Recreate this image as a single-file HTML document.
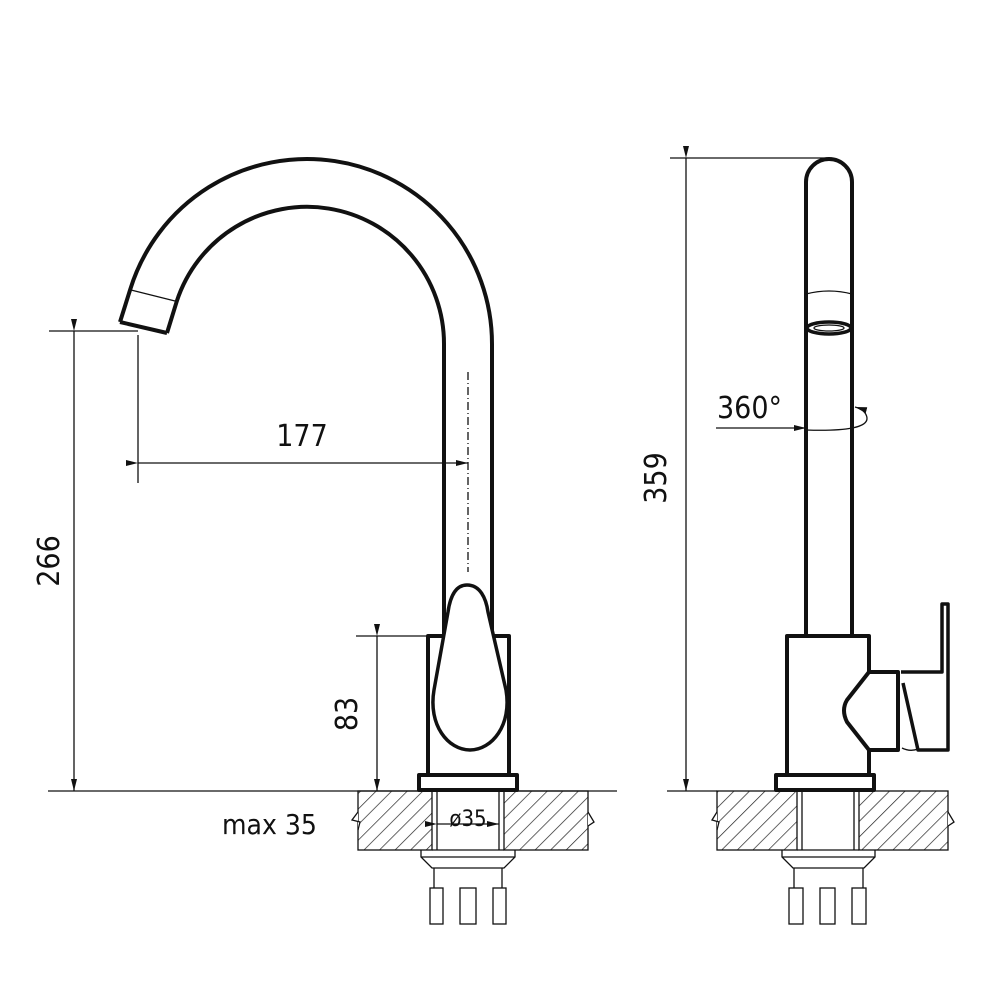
<!DOCTYPE html>
<html><head><meta charset="utf-8"><style>
html,body{margin:0;padding:0;background:#fff;width:1000px;height:1000px;overflow:hidden}
text{font-family:"DejaVu Sans Condensed","Liberation Sans",sans-serif;fill:#111}
</style></head><body>
<svg width="1000" height="1000" viewBox="0 0 1000 1000" xmlns="http://www.w3.org/2000/svg">
<defs>
<pattern id="h" width="11" height="11" patternUnits="userSpaceOnUse" patternTransform="rotate(45)">
<line x1="0" y1="0" x2="0" y2="11" stroke="#222" stroke-width="1.4"/>
</pattern>
<marker id="a" viewBox="0 0 12 6" refX="12" refY="3" markerWidth="12" markerHeight="6" orient="auto" markerUnits="userSpaceOnUse">
<path d="M0,0 L12,3 L0,6 z" fill="#111"/></marker>
</defs>
<g fill="none" stroke="#111" stroke-width="1.3">
<line x1="49" y1="331" x2="138" y2="331"/>
<line x1="48" y1="791" x2="617" y2="791"/>
<line x1="74" y1="331" x2="74" y2="791" marker-start="url(#a)" marker-end="url(#a)"/>
<line x1="138" y1="335" x2="138" y2="483"/>
<line x1="138" y1="463" x2="468" y2="463" marker-start="url(#a)" marker-end="url(#a)"/>
<line x1="468" y1="372" x2="468" y2="572" stroke-dasharray="8,3,1,3"/>
<line x1="356" y1="636" x2="428" y2="636"/>
<line x1="377" y1="636" x2="377" y2="791" marker-start="url(#a)" marker-end="url(#a)"/>
<line x1="670" y1="158" x2="829" y2="158"/>
<line x1="686" y1="158" x2="686" y2="791" marker-start="url(#a)" marker-end="url(#a)"/>
<line x1="667" y1="791" x2="717" y2="791"/>
<line x1="716" y1="428" x2="806" y2="428" marker-end="url(#a)"/>
<path d="M806,430 Q868,432 867,418 Q866,410 855,407" marker-end="url(#a)"/>
</g>
<g stroke="#111" stroke-width="1.3">
<rect x="358" y="791" width="74" height="59" fill="url(#h)"/>
<rect x="504" y="791" width="84" height="59" fill="url(#h)"/>
<rect x="717" y="791" width="80" height="59" fill="url(#h)"/>
<rect x="859" y="791" width="89" height="59" fill="url(#h)"/>
</g>
<g fill="none" stroke="#111" stroke-width="1.3">
<line x1="437" y1="791" x2="437" y2="850"/><line x1="499" y1="791" x2="499" y2="850"/>
<line x1="432" y1="850" x2="504" y2="850"/>
<line x1="802" y1="791" x2="802" y2="850"/><line x1="854" y1="791" x2="854" y2="850"/>
<line x1="797" y1="850" x2="859" y2="850"/>
<path d="M421,850 L421,857 L432,868 L504,868 L515,857 L515,850 M421,857 L515,857"/>
<path d="M434,868 L434,888 M502,868 L502,888"/>
<rect x="430" y="888" width="13" height="36"/><rect x="460" y="888" width="16" height="36"/><rect x="493" y="888" width="13" height="36"/>
<path d="M782,850 L782,857 L793,868 L864,868 L875,857 L875,850 M782,857 L875,857"/>
<path d="M794,868 L794,888 M863,868 L863,888"/>
<rect x="789" y="888" width="14" height="36"/><rect x="820" y="888" width="15" height="36"/><rect x="852" y="888" width="14" height="36"/>
<line x1="437" y1="824" x2="499" y2="824" marker-start="url(#a)" marker-end="url(#a)"/>
<path d="M358,812 L352,820 L360,822 L358,830" fill="#fff"/>
<path d="M588,812 L594,822 L588,826" fill="#fff"/>
<path d="M717,812 L712,820 L719,822 L717,830" fill="#fff"/>
<path d="M948,812 L954,822 L948,826" fill="#fff"/>
</g>
<g fill="none" stroke="#111" stroke-width="4" stroke-linejoin="round">
<path d="M120,322 L130.3,289.2 A185,185 0 0 1 492,344 L492,636"/>
<path d="M167,333 L176.8,301.2 A137,137 0 0 1 444,344 L444,636"/>
<path d="M120,322 L167,333"/>
<rect x="428" y="636" width="81" height="139" fill="#fff"/>
<rect x="419" y="775" width="98" height="15" fill="#fff"/>
<path d="M467,585 C455,585 450,598 448,612 L434,690 C428,725 448,750 470,750 C492,750 512,725 506,690 L488,612 C486,598 480,585 467,585 Z" fill="#fff" stroke-width="3.5"/>
</g>
<line x1="131" y1="290" x2="175" y2="301" stroke="#111" stroke-width="1.3"/>
<g fill="none" stroke="#111" stroke-width="4" stroke-linejoin="round">
<path d="M806,636 L806,182 A23,23 0 0 1 852,182 L852,636"/>
<rect x="787" y="636" width="82" height="139" fill="#fff"/>
<rect x="776" y="775" width="98" height="15" fill="#fff"/>
<path d="M869,672 L898,672 L898,750 L869,750 L847,722 Q841,710 847,700 Z" fill="#fff"/>
<path d="M901,672 L942,672 L942,604 L948,604 L948,750 L918,750 L903,683" fill="#fff" stroke-width="3.5"/>
<ellipse cx="829" cy="328" rx="22" ry="6" stroke-width="3.5"/>
</g>
<ellipse cx="829" cy="328" rx="15" ry="3" fill="none" stroke="#111" stroke-width="1.3"/>
<path d="M806,294 Q829,288 852,294" fill="none" stroke="#111" stroke-width="1.3"/>
<path d="M902,748 Q910,752 918,749" fill="none" stroke="#111" stroke-width="1.3"/>
<text x="302" y="446" font-size="30" text-anchor="middle">177</text>
<text transform="translate(59,561) rotate(-90)" font-size="30" text-anchor="middle">266</text>
<text transform="translate(357,714) rotate(-90)" font-size="30" text-anchor="middle">83</text>
<text transform="translate(666,478) rotate(-90)" font-size="30" text-anchor="middle">359</text>
<text x="717" y="418" font-size="30">360°</text>
<text x="222" y="834" font-size="28">max 35</text>
<text x="468" y="826" font-size="22" text-anchor="middle">ø35</text>
</svg>
</body></html>
